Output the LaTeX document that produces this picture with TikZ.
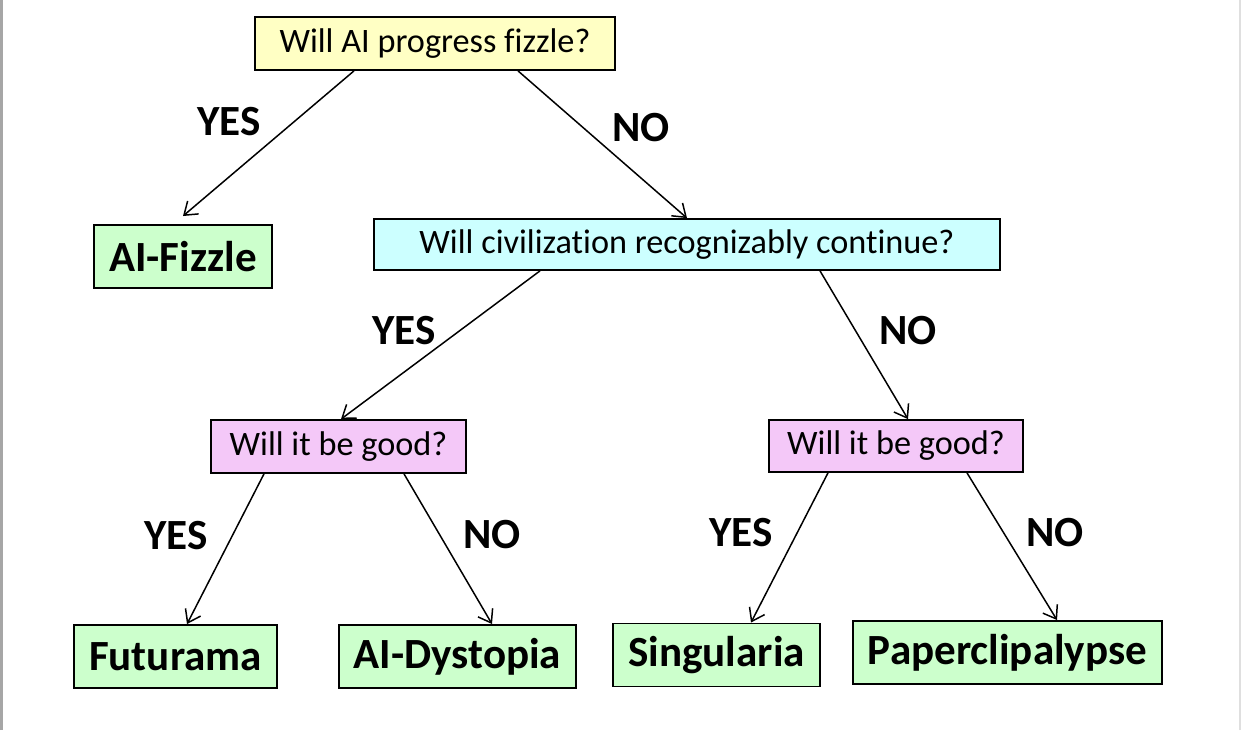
\documentclass[tikz,border=0pt]{standalone}
\usepackage{fontspec}
\setmainfont{Carlito}[Ligatures=NoCommon]
\usepackage{tikz}
\usetikzlibrary{
    arrows.meta,
    calc
}

\definecolor{qyellow}{HTML}{FFFFC4}
\definecolor{qcyan}{HTML}{CCFFFF}
\definecolor{qpink}{HTML}{F4C8F8}
\definecolor{endgreen}{HTML}{CCFFCC}

\tikzset{
    question/.style={draw=black, line width=1pt, minimum height=1.06cm,
        font=\fontsize{19.5}{23}\selectfont},
    outcome/.style={draw=black, line width=1.1pt, fill=endgreen, minimum height=1.26cm,
        inner xsep=0.3cm, font=\fontsize{24.5}{28}\selectfont\bfseries},
    answer/.style={font=\fontsize{24.5}{28}\selectfont\bfseries},
    branch/.style={-{Straight Barb[length=2.4mm,width=3.4mm]}, line width=0.85pt}
}

\begin{document}
\begin{tikzpicture}[scale=1]

\useasboundingbox (0,0) rectangle (24.86,14.6);

% Page edges
\draw[gray!70, line width=1.6pt] (0.03,0)--(0.03,14.6);
\draw[gray!25, line width=1pt] (24.80,0)--(24.80,14.6);

% Questions
\node[question, fill=qyellow, minimum width=7.2cm] (fizzleq) at (8.70,13.73) {Will AI progress fizzle?};
\node[question, fill=qcyan, minimum width=12.52cm, minimum height=1.02cm] (civq) at (13.74,9.71) {Will civilization recognizably continue?};
\node[question, fill=qpink, minimum width=5.10cm] (goodl) at (6.77,5.67) {Will it be good?};
\node[question, fill=qpink, minimum width=5.08cm, minimum height=1.04cm] (goodr) at (17.92,5.68) {Will it be good?};

% Outcomes
\node[outcome] (fizzle) at (3.66,9.47) {AI-Fizzle};
\node[outcome] (futurama) at (3.51,1.47) {Futurama};
\node[outcome] (dystopia) at (9.15,1.47) {AI-Dystopia};
\node[outcome] (singularia) at (14.33,1.50) {Singularia};
\node[outcome] (paperclip) at (20.15,1.55) {Paperclipalypse};

% Branches
\draw[branch] ([xshift=-1.62cm]fizzleq.south)--([yshift=0.16cm]fizzle.north);
\draw[branch] ([xshift=1.66cm]fizzleq.south)--(civq.north);
\draw[branch] ([xshift=-2.94cm]civq.south)--([xshift=0.05cm]goodl.north);
\draw[branch] ([xshift=2.66cm]civq.south)--([xshift=0.24cm]goodr.north);
\draw[branch] ([xshift=-1.49cm]goodl.south)--([xshift=0.23cm]futurama.north);
\draw[branch] ([xshift=1.31cm]goodl.south)--([xshift=0.69cm]dystopia.north);
\draw[branch] ([xshift=-1.36cm]goodr.south)--([xshift=0.69cm]singularia.north);
\draw[branch] ([xshift=1.42cm]goodr.south)--([xshift=0.99cm]paperclip.north);

% Answers
\node[answer] (yes1) at (4.58,12.17) {YES};
\node[answer] (no1) at (12.82,12.04) {NO};
\node[answer] (yes2) at (8.08,7.98) {YES};
\node[answer] (no2) at (18.16,7.98) {NO};
\node[answer] (yes3) at (3.52,3.88) {YES};
\node[answer] (no3) at (9.84,3.90) {NO};
\node[answer] (yes4) at (14.82,3.94) {YES};
\node[answer] (no4) at (21.10,3.94) {NO};

\end{tikzpicture}
\end{document}
